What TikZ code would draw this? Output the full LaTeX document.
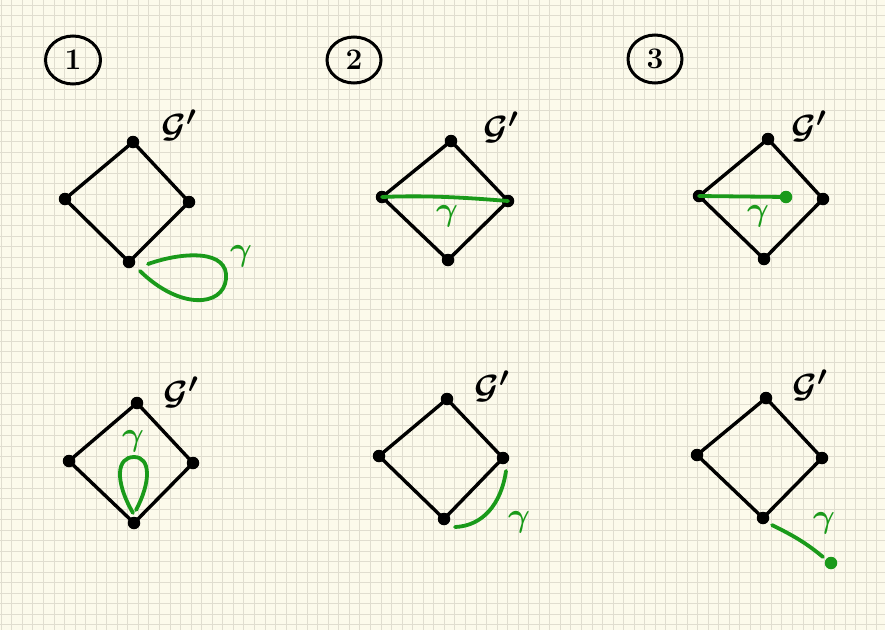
\documentclass[tikz,border=0pt]{standalone}
\usepackage{graphicx}
\usetikzlibrary{shapes.geometric}
\definecolor{paper}{HTML}{FCFAEB}
\definecolor{gridc}{HTML}{E0DDCF}
\definecolor{pen}{HTML}{1A9A1A}
\newcommand{\bigG}{\scalebox{1.35}{\Huge\boldmath$\mathcal{G}'$}}
\newcommand{\bigy}{\scalebox{1.35}{\Huge\boldmath$\gamma$}}
\newcommand{\bignum}[1]{\scalebox{1.2}{\Huge\bfseries #1}}
\tikzset{
  gridline/.style={draw=gridc, line width=0.8pt},
  edge/.style={line width=3.4pt, line cap=round, line join=round},
  gpath/.style={draw=pen, line width=3.8pt, line cap=round},
  vtx/.style={circle, fill=black, inner sep=0pt, minimum size=12.5pt},
  gdot/.style={circle, fill=pen, inner sep=0pt, minimum size=12.5pt},
  glabel/.style={inner sep=0pt},
  ylabel/.style={text=pen, inner sep=0pt},
  numc/.style={ellipse, draw, line width=3pt, minimum width=55pt, minimum height=48pt, inner sep=0pt}
}
\begin{document}
\begin{tikzpicture}[x=1pt, y=-1pt]
\useasboundingbox (0,0) rectangle (885,630);
\fill[paper] (0,0) rectangle (885,630);
\foreach \i in {0,...,84} {\draw[gridline] ({1.15+\i*10.55},0) -- ({1.15+\i*10.55},630);}
\foreach \j in {0,...,60} {\draw[gridline] (0,{5+\j*10.5}) -- (885,{5+\j*10.5});}

% circled numbers
\node[numc] (n1) at (73,60) {\bignum{1}};
\node[numc, minimum width=54pt, minimum height=46pt] (n2) at (354,60) {\bignum{2}};
\node[numc, minimum width=54pt, minimum height=48pt] (n3) at (655,59) {\bignum{3}};

% ---------- panel 1 ----------
\node[vtx] (a1) at (133,142) {};
\node[vtx] (b1) at (65,199) {};
\node[vtx] (c1) at (189,202) {};
\node[vtx] (d1) at (129,262) {};
\draw[edge] (a1.center) -- (c1.center) -- (d1.center) -- (b1.center) -- cycle;
\node[glabel] (g1) at (179,125) {\bigG};
\draw[gpath] (148,264) .. controls (185,251) and (229,250) .. (226,279) .. controls (223,307) and (180,310) .. (140,271);
\node[ylabel] (y1) at (241,256) {\bigy};

% ---------- panel 2 ----------
\node[vtx] (a2) at (451,141) {};
\node[vtx] (b2) at (382,197) {};
\node[vtx] (c2) at (508,201) {};
\node[vtx] (d2) at (448,260) {};
\draw[edge] (a2.center) -- (c2.center) -- (d2.center) -- (b2.center) -- cycle;
\node[glabel] (g2) at (501,127) {\bigG};
\draw[gpath] (b2.center) .. controls (430,195) and (470,198) .. (c2.center);
\node[ylabel] (y2) at (447,216) {\bigy};

% ---------- panel 3 ----------
\node[vtx] (a3) at (768,139) {};
\node[vtx] (b3) at (699,196) {};
\node[vtx] (c3) at (823,199) {};
\node[vtx] (d3) at (764,259) {};
\draw[edge] (a3.center) -- (c3.center) -- (d3.center) -- (b3.center) -- cycle;
\node[glabel] (g3) at (809,126) {\bigG};
\node[gdot] (e3) at (786,197) {};
\draw[gpath] (b3.center) -- (e3.center);
\node[ylabel] (y3) at (758,216) {\bigy};

% ---------- panel 4 ----------
\node[vtx] (a4) at (137,403) {};
\node[vtx] (b4) at (69,461) {};
\node[vtx] (c4) at (193,463) {};
\node[vtx] (d4) at (134,523) {};
\draw[edge] (a4.center) -- (c4.center) -- (d4.center) -- (b4.center) -- cycle;
\node[glabel] (g4) at (181,392) {\bigG};
\coordinate (t4) at (133,513);
\draw[gpath] (t4) .. controls (114,480) and (117,457) .. (134,457) .. controls (151,457) and (151,482) .. (136,510);
\node[ylabel] (y4) at (133,441) {\bigy};

% ---------- panel 5 ----------
\node[vtx] (a5) at (447,399) {};
\node[vtx] (b5) at (379,456) {};
\node[vtx] (c5) at (503,458) {};
\node[vtx] (d5) at (444,519) {};
\draw[edge] (a5.center) -- (c5.center) -- (d5.center) -- (b5.center) -- cycle;
\node[glabel] (g5) at (492,386) {\bigG};
\coordinate (s5) at (506,471);
\coordinate (e5) at (455,527);
\draw[gpath] (s5) .. controls (501,505) and (482,526) .. (e5);
\node[ylabel] (y5) at (519,522) {\bigy};

% ---------- panel 6 ----------
\node[vtx] (a6) at (766,398) {};
\node[vtx] (b6) at (697,455) {};
\node[vtx] (c6) at (822,458) {};
\node[vtx] (d6) at (763,518) {};
\draw[edge] (a6.center) -- (c6.center) -- (d6.center) -- (b6.center) -- cycle;
\node[glabel] (g6) at (810,385) {\bigG};
\coordinate (s6) at (772,525);
\node[gdot] (e6) at (831,563) {};
\draw[gpath] (s6) .. controls (792,535) and (805,542) .. (823,557);
\node[ylabel] (y6) at (824,523) {\bigy};
\end{tikzpicture}
\end{document}
